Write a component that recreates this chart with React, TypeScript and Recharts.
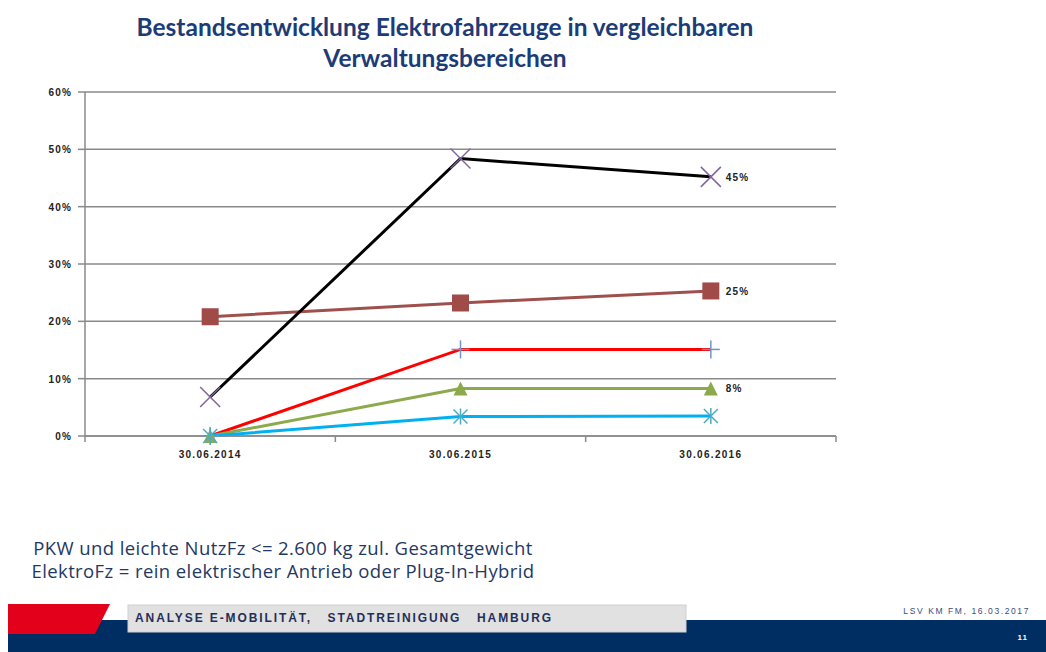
import React from 'react';
import { LineChart, Line, XAxis, YAxis, CartesianGrid, LabelList } from 'recharts';

const categories = ['30.06.2014', '30.06.2015', '30.06.2016'];
const seriesBrown = [0.208, 0.232, 0.253];
const seriesBlack = [0.068, 0.484, 0.452];
const seriesRed = [0, 0.151, 0.151];
const seriesGreen = [0, 0.083, 0.083];
const seriesCyan = [0, 0.034, 0.035];
const yTicks = [0, 0.1, 0.2, 0.3, 0.4, 0.5, 0.6];

const titleLines = ['Bestandsentwicklung Elektrofahrzeuge in vergleichbaren', 'Verwaltungsbereichen'];
const noteLines = ['PKW und leichte NutzFz <= 2.600 kg zul. Gesamtgewicht', 'ElektroFz = rein elektrischer Antrieb oder Plug-In-Hybrid'];
const footerText = 'ANALYSE E-MOBILITÄT,\u00a0\u00a0\u00a0STADTREINIGUNG\u00a0\u00a0\u00a0HAMBURG';
const footerRight = 'LSV KM FM, 16.03.2017';
const pageNumber = '11';

const data = categories.map((c, i) => ({
  date: c,
  brown: seriesBrown[i],
  black: seriesBlack[i],
  red: seriesRed[i],
  green: seriesGreen[i],
  cyan: seriesCyan[i],
}));

const pct = (v: number) => `${Math.round(v * 100)}%`;
const FONT = '"Liberation Sans", Arial, sans-serif';

const XMarker = (p: any) => {
  const { cx, cy, index } = p;
  const s = 10;
  return (
    <g key={`xm-${index}`}>
      <line x1={cx - s} y1={cy - s} x2={cx + s} y2={cy + s} stroke="#8064a2" strokeWidth={1.5} />
      <line x1={cx - s} y1={cy + s} x2={cx + s} y2={cy - s} stroke="#8064a2" strokeWidth={1.5} />
    </g>
  );
};

const SquareMarker = (p: any) => {
  const { cx, cy, index } = p;
  const s = 8.5;
  return <rect key={`sq-${index}`} x={cx - s} y={cy - s} width={2 * s} height={2 * s} fill="#a04b47" />;
};

const PlusMarker = (p: any) => {
  const { cx, cy, index } = p;
  const s = 9;
  return (
    <g key={`pl-${index}`}>
      <line x1={cx - s} y1={cy} x2={cx + s} y2={cy} stroke="#7094c8" strokeWidth={1.5} />
      <line x1={cx} y1={cy - s} x2={cx} y2={cy + s} stroke="#7094c8" strokeWidth={1.5} />
    </g>
  );
};

const TriangleMarker = (p: any) => {
  const { cx, cy, index } = p;
  const s = 7;
  return (
    <polygon
      key={`tr-${index}`}
      points={`${cx},${cy - s} ${cx + s},${cy + s} ${cx - s},${cy + s}`}
      fill="#8caa4c"
    />
  );
};

const StarMarker = (p: any) => {
  const { cx, cy, index } = p;
  const s = 7;
  return (
    <g key={`st-${index}`} stroke="#4bacc6" strokeWidth={1.5}>
      <line x1={cx - s} y1={cy - s} x2={cx + s} y2={cy + s} />
      <line x1={cx - s} y1={cy + s} x2={cx + s} y2={cy - s} />
      <line x1={cx} y1={cy - s - 1} x2={cx} y2={cy + s + 1} />
    </g>
  );
};

const EndLabel = (p: any) => {
  const { x, y, value, index } = p;
  if (index !== categories.length - 1) return null;
  return (
    <text x={x + 15} y={y + 4} fontSize={10} fontWeight="bold" fontFamily={FONT} fill="#222" letterSpacing={1.2}>
      {pct(value)}
    </text>
  );
};

const YTick = (p: any) => {
  const { x, y, payload } = p;
  return (
    <text x={x} y={y + 4} textAnchor="end" fontSize={10} fontWeight="bold" fontFamily={FONT} fill="#222" letterSpacing={1.2}>
      {pct(payload.value)}
    </text>
  );
};

const XTick = (p: any) => {
  const { x, y, payload, index } = p;
  const off = payload.offset || 0;
  const axisY = y - 8;
  return (
    <g>
      <line x1={x - off} y1={axisY} x2={x - off} y2={axisY + 6} stroke="#8a8a8a" strokeWidth={1.5} />
      {index === categories.length - 1 && (
        <line x1={x + off} y1={axisY} x2={x + off} y2={axisY + 6} stroke="#8a8a8a" strokeWidth={1.5} />
      )}
      <text x={x} y={axisY + 22} textAnchor="middle" fontSize={10} fontWeight="bold" fontFamily={FONT} fill="#222" letterSpacing={1.3}>
        {payload.value}
      </text>
    </g>
  );
};

export default function App() {
  return (
    <div style={{ position: 'absolute', left: 0, top: 0, width: 1046, height: 652, background: '#fff', overflow: 'hidden' }}>
      <div
        style={{
          position: 'absolute',
          left: 0,
          top: 11,
          width: 890,
          textAlign: 'center',
          fontFamily: 'Lato, sans-serif',
          fontWeight: 700,
          fontSize: 24.5,
          lineHeight: '31px',
          color: '#1c3c78',
        }}
      >
        {titleLines.map((t) => (
          <div key={t}>{t}</div>
        ))}
      </div>

      <div style={{ position: 'absolute', left: 0, top: 0 }}>
        <LineChart width={1046} height={652} data={data} margin={{ top: 92, right: 210, left: 25, bottom: 186 }}>
          <CartesianGrid horizontal vertical={false} stroke="#8a8a8a" strokeWidth={1.5} />
          <XAxis
            dataKey="date"
            scale="band"
            height={30}
            tickLine={false}
            axisLine={{ stroke: '#8a8a8a', strokeWidth: 1.5 }}
            tick={<XTick />}
            interval={0}
          />
          <YAxis
            domain={[0, 0.6]}
            ticks={yTicks}
            width={60}
            tickSize={7}
            tickMargin={6}
            tickLine={{ stroke: '#8a8a8a', strokeWidth: 1.5 }}
            axisLine={{ stroke: '#8a8a8a', strokeWidth: 1.5 }}
            tick={<YTick />}
          />
          <Line dataKey="brown" stroke="#a0504c" strokeWidth={3} dot={SquareMarker} activeDot={false} isAnimationActive={false}>
            <LabelList dataKey="brown" content={EndLabel} />
          </Line>
          <Line dataKey="black" stroke="#000" strokeWidth={3} dot={XMarker} activeDot={false} isAnimationActive={false}>
            <LabelList dataKey="black" content={EndLabel} />
          </Line>
          <Line dataKey="red" stroke="#ff0000" strokeWidth={3} dot={PlusMarker} activeDot={false} isAnimationActive={false} />
          <Line dataKey="green" stroke="#8caa4c" strokeWidth={3} dot={TriangleMarker} activeDot={false} isAnimationActive={false}>
            <LabelList dataKey="green" content={EndLabel} />
          </Line>
          <Line dataKey="cyan" stroke="#00b0f0" strokeWidth={3} dot={StarMarker} activeDot={false} isAnimationActive={false} />
        </LineChart>
      </div>

      <div
        style={{
          position: 'absolute',
          left: 0,
          top: 536,
          width: 566,
          textAlign: 'center',
          fontFamily: '"Open Sans", sans-serif',
          fontSize: 18.5,
          lineHeight: '23px',
          color: '#1f3864',
          letterSpacing: 0.4,
        }}
      >
        {noteLines.map((t) => (
          <div key={t}>{t}</div>
        ))}
      </div>

      <svg width={1046} height={652} style={{ position: 'absolute', left: 0, top: 0 }}>
        <rect x={8} y={620} width={1038} height={32} fill="#002d62" />
        <polygon points="8,604 110,604 95,634 8,634" fill="#e2001a" />
        <rect x={128} y={605} width={558} height={27} fill="#e1e1e1" stroke="#cfcfcf" strokeWidth={1} />
        <text x={135} y={622} fontFamily={FONT} fontWeight="bold" fontSize={12} fill="#1f2f5a" letterSpacing={1.9}>
          {footerText}
        </text>
        <text x={1030} y={614} textAnchor="end" fontFamily={FONT} fontSize={8.5} fill="#3a4a7a" letterSpacing={1.6}>
          {footerRight}
        </text>
        <text x={1028} y={640} textAnchor="end" fontFamily={FONT} fontWeight="bold" fontSize={8} fill="#ffffff" letterSpacing={1}>
          {pageNumber}
        </text>
      </svg>
    </div>
  );
}
